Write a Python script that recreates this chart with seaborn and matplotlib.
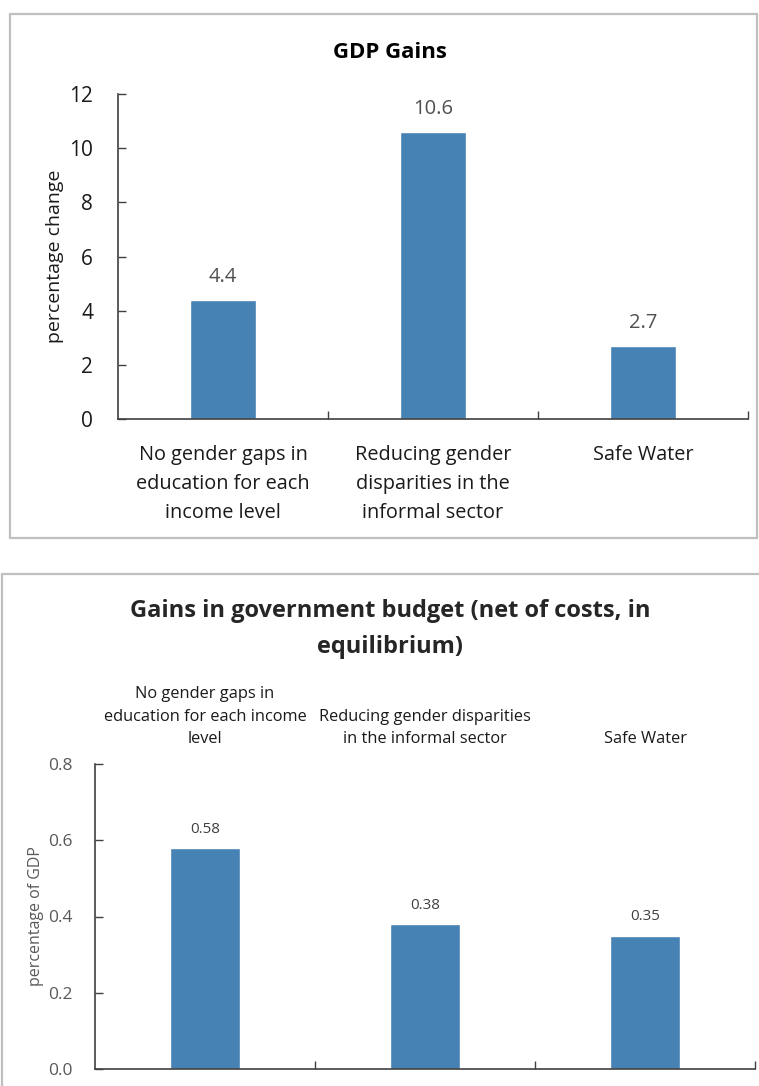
import matplotlib
matplotlib.use("Agg")
import matplotlib.pyplot as plt
from matplotlib.patches import Rectangle
import seaborn as sns
import pandas as pd

# 데이터
gdp_categories = ["No gender gaps in\neducation for each\nincome level",
                  "Reducing gender\ndisparities in the\ninformal sector",
                  "Safe Water"]
gdp_values = [4.4, 10.6, 2.7]
gdp_yticks = [0, 2, 4, 6, 8, 10, 12]

budget_categories = ["No gender gaps in\neducation for each income\nlevel",
                     "Reducing gender disparities\nin the informal sector",
                     "Safe Water"]
budget_values = [0.58, 0.38, 0.35]
budget_yticks = [0.0, 0.2, 0.4, 0.6, 0.8]

BAR = "#4682B4"
W, H = 759, 1086

sns.set_theme(style="white")
plt.rcParams['font.family'] = ['Open Sans', 'DejaVu Sans']

fig = plt.figure(figsize=(W / 100, H / 100), dpi=100)


def px_axes(x0, y0, x1, y1):
    # 픽셀 좌표(위에서부터)를 figure 비율로
    return fig.add_axes([x0 / W, 1 - y1 / H, (x1 - x0) / W, (y1 - y0) / H])


def px_box(x0, y0, x1, y1):
    fig.add_artist(Rectangle((x0 / W, 1 - y1 / H), (x1 - x0) / W, (y1 - y0) / H,
                             transform=fig.transFigure, fill=False,
                             ec="#BFBFBF", lw=1.6))


px_box(10, 14, 757, 538)
px_box(2, 574, 800, 1120)

# ---- 위쪽: GDP Gains
df1 = pd.DataFrame({"cat": gdp_categories, "val": gdp_values})
ax1 = px_axes(118, 94, 748, 419)
sns.barplot(data=df1, x="cat", y="val", color=BAR, width=0.31, saturation=1, ax=ax1)
ax1.set_ylim(0, 12)
ax1.set_xlim(-0.5, 2.5)
ax1.set_yticks(gdp_yticks)
ax1.set_xticks([0, 1, 2])
ax1.set_xticklabels(gdp_categories, fontsize=14.3, color="#1a1a1a", linespacing=1.6)
ax1.set_xticks([0.5, 1.5, 2.5], minor=True)
ax1.tick_params(axis="x", which="major", length=0, pad=19)
ax1.tick_params(axis="x", which="minor", direction="in", length=6, width=1, color="#404040", bottom=True)
ax1.tick_params(axis="y", direction="in", length=6, width=1, color="#404040",
                labelsize=15, labelcolor="#1a1a1a", pad=18, left=True)
ax1.set_xlabel("")
ax1.set_ylabel("percentage change", fontsize=14, color="#1a1a1a", labelpad=4)
for s in ["top", "right"]:
    ax1.spines[s].set_visible(False)
for s in ["left", "bottom"]:
    ax1.spines[s].set_color("#404040")
    ax1.spines[s].set_linewidth(1.2)
ax1.bar_label(ax1.containers[0], labels=[f"{v:.1f}" for v in gdp_values],
              padding=9, fontsize=14.5, color="#505050")
fig.text(390 / W, 1 - 52 / H, "GDP Gains", ha="center", va="center",
         fontsize=16, fontweight="bold", color="black")

# ---- 아래쪽: 정부 예산
df2 = pd.DataFrame({"cat": budget_categories, "val": budget_values})
ax2 = px_axes(95, 764, 755, 1069)
sns.barplot(data=df2, x="cat", y="val", color=BAR, width=0.32, saturation=1, ax=ax2)
ax2.set_ylim(0, 0.8)
ax2.set_xlim(-0.5, 2.5)
ax2.set_yticks(budget_yticks)
ax2.set_yticklabels([f"{v:.1f}" for v in budget_yticks])
ax2.set_xticks([0, 1, 2])
ax2.set_xticklabels(budget_categories, fontsize=11.8, color="#1a1a1a", linespacing=1.55)
ax2.set_xticks([0.5, 1.5, 2.5], minor=True)
ax2.tick_params(axis="x", which="major", length=0, pad=12,
                labeltop=True, labelbottom=False, top=False, bottom=False)
ax2.tick_params(axis="x", which="minor", direction="in", length=6, width=1, color="#404040", bottom=True)
ax2.tick_params(axis="y", direction="in", length=6, width=1, color="#404040",
                labelsize=12.5, labelcolor="#595959", pad=16, left=True)
ax2.set_xlabel("")
ax2.set_ylabel("percentage of GDP", fontsize=11.5, color="#595959", labelpad=3)
for s in ["top", "right"]:
    ax2.spines[s].set_visible(False)
for s in ["left", "bottom"]:
    ax2.spines[s].set_color("#404040")
    ax2.spines[s].set_linewidth(1.2)
ax2.bar_label(ax2.containers[0], labels=[f"{v:.2f}" for v in budget_values],
              padding=8, fontsize=11, color="#404040")
fig.text(390 / W, 1 - 629 / H, "Gains in government budget (net of costs, in\nequilibrium)",
         ha="center", va="center", fontsize=17, fontweight="bold", linespacing=1.65)

fig.savefig("out.png", dpi=100)
